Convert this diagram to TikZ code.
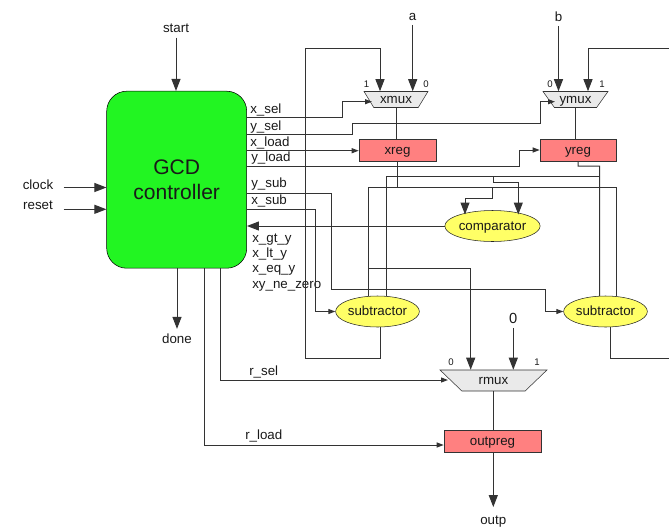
\documentclass[tikz,border=0pt]{standalone}
\usepackage{fontspec}
\setmainfont{Liberation Sans}
\usepackage{xcolor}
\usetikzlibrary{arrows.meta,shapes.geometric,calc}

\definecolor{ctrlgreen}{HTML}{22F522}
\definecolor{regred}{HTML}{FF8080}
\definecolor{opyellow}{HTML}{FFFF66}
\definecolor{muxgray}{HTML}{EAEAEA}
\definecolor{wiregray}{HTML}{333333}

\begin{document}
\begin{tikzpicture}[
  x=0.75pt, y=-0.75pt,
  every node/.style={font=\fontsize{10}{12}\selectfont, text=black!90},
  ctrl/.style={rectangle, draw=black, fill=ctrlgreen, rounded corners=15pt,
               minimum width=140*0.75pt, minimum height=177*0.75pt, align=center, inner sep=0pt,
               font=\fontsize{15.8}{18.75}\selectfont},
  regbox/.style={rectangle, draw=black!80, fill=regred, minimum height=22*0.75pt, inner sep=0pt,
               text height=6pt, text depth=0pt},
  alu/.style={ellipse, draw=black!85, fill=opyellow, minimum height=31*0.75pt, inner sep=0pt,
               text height=6pt, text depth=0pt},
  muxbox/.style 2 args={trapezium, shape border rotate=180, trapezium stretches=true,
               draw=black!80, fill=muxgray, inner sep=0pt, minimum height=#2*0.75pt,
               minimum width=#1*0.75pt, text height=6pt, text depth=0pt},
  sig/.style={inner sep=0pt, anchor=west, text height=7.5pt, text depth=1pt},
  pin/.style={inner sep=0pt, font=\fontsize{7.2}{9}\selectfont},
  wire/.style={draw=wiregray, line width=0.75pt},
  arr/.style={wire, -{Triangle[length=9pt, width=6.75pt]}},
  sarr/.style={wire, -{Triangle[length=5.25pt, width=3.75pt]}},
]
\useasboundingbox (0,0) rectangle (669,526);

% Controller
\node[ctrl] (ctrl) at (176.7,179.7) {GCD\\controller};

% Muxes
\node[muxbox={64}{16}, trapezium left angle=49, trapezium right angle=49] (xmux) at (396,99.5) {xmux};
\node[muxbox={65}{16}, trapezium left angle=43, trapezium right angle=43] (ymux) at (575.5,99.5) {ymux};
\node[muxbox={107}{21}, trapezium left angle=38, trapezium right angle=38] (rmux) at (493.5,380.5) {rmux};
\node[pin] (xone) at (366.5,84) {1};
\node[pin] (xzero) at (426,84) {0};
\node[pin] (yzero) at (550,84) {0};
\node[pin] (yone) at (602,84) {1};
\node[pin] (rzero) at (451,362) {0};
\node[pin] (rone) at (537,362) {1};

% Registers
\node[regbox, minimum width=77*0.75pt] (xreg) at (397.5,150) {xreg};
\node[regbox, minimum width=76*0.75pt] (yreg) at (578,150) {yreg};
\node[regbox, minimum width=97*0.75pt] (outpreg) at (492.5,441) {outpreg};

% Function units
\node[alu, minimum width=75*0.75pt] (comparator) at (492.5,226) {comparator};
\node[alu, minimum width=81*0.75pt] (subx) at (377.5,311.5) {subtractor};
\node[alu, minimum width=77*0.75pt] (suby) at (605.5,311.5) {subtractor};

% Ports
\node (start) at (176,28.5) {start};
\node (done) at (177,338.5) {done};
\node (clock) at (38,184.5) {clock};
\node (reset) at (38,205) {reset};
\node (a) at (412.7,16.5) {a};
\node (b) at (558.5,16.5) {b};
\node[font=\fontsize{11}{13}\selectfont] (zero) at (513.3,318) {0};
\node (outp) at (493.3,521.5) {outp};
\coordinate (clockin) at (63.5,187.5);
\coordinate (resetin) at (63.5,209.3);
\coordinate (xedge) at (669,48.7);
\coordinate (yedge) at (669,358.7);
\coordinate (xbus) at (616.7,187.5);
\coordinate (ybus) at (599.7,176.7);

% Signal names
\node[sig] (lxsel) at (250,109) {x\_sel};
\node[sig] (lysel) at (250,126) {y\_sel};
\node[sig] (lxload) at (250,142) {x\_load};
\node[sig] (lyload) at (251,157) {y\_load};
\node[sig] (lysub) at (251,183) {y\_sub};
\node[sig] (lxsub) at (251,200) {x\_sub};
\node[sig] (lgt) at (252,238) {x\_gt\_y};
\node[sig] (llt) at (252,253) {x\_lt\_y};
\node[sig] (leq) at (252,268) {x\_eq\_y};
\node[sig] (lne) at (252,284) {xy\_ne\_zero};
\node[sig] (lrsel) at (249,371) {r\_sel};
\node[sig] (lrload) at (245,435) {r\_load};

% Arrows: ports
\draw[arr] (start) -- (start |- ctrl.north);
\draw[arr] (done |- ctrl.south) -- (done);
\draw[arr] (clockin) -- (ctrl.west |- clockin);
\draw[arr] (resetin) -- (ctrl.west |- resetin);
\draw[arr] (a) -- (a |- xmux.north);
\draw[arr] (b) -- (b |- ymux.north);
\draw[arr] (zero) -- (zero |- rmux.north);
\draw[arr, shorten >=3pt] (outp |- outpreg.south) -- (outp);

% Arrows: control
\draw[sarr] (ctrl.east |- 0,117.7) -| (342.7,101.7) -- ($(xmux.center)+(-24,2.2)$);
\draw[sarr] (ctrl.east |- 0,134.7) -| (352.7,123.3) -| (540.7,101.7) -- ($(ymux.center)+(-20.5,2.2)$);
\draw[sarr] (ctrl.east |- 0,150.7) -- (xreg.west |- 0,150.7);
\draw[sarr] (ctrl.east |- 0,166) -| (519,150) -- (yreg.west);
\draw[sarr] (ctrl.east |- 0,193.3) -| (331.7,289.3) -| (545.7,311.5) -- (suby.west);
\draw[sarr] (ctrl.east |- 0,209.3) -| (315.7,311.5) -- (subx.west);
\draw[arr] (comparator.west) -- (ctrl.east |- comparator.west);
\draw[sarr] (220,268) |- ($(rmux.center)+(-45.5,-0.5)$);
\draw[sarr] (204.3,268) |- (outpreg.west |- 0,445);

% Data path
\draw[wire] (xmux.center |- 0,107) -- (xmux.center |- xreg.north);
\draw[wire] (ymux.center |- 0,107) -- (ymux.center |- yreg.north);
\draw[wire] (rmux.center |- 0,391) -- (rmux.center |- outpreg.north);
\draw[arr] ($(subx.south)+(2.5,0)$) |- (305,358.7) -- (305,48.7) -| ($(xmux.north)+(-16,0)$);
\draw[arr] (xedge) -| ($(ymux.north)+(12.5,0)$);
\draw[wire] ($(suby.south)+(4.5,0)$) |- (yedge);

% x register bus
\draw[wire] (xreg.south) -- (xreg.south |- xbus);
\draw[wire] ($(subx.north)+(-8.8,0.5)$) |- (xbus) -- ($(suby.north)+(11.2,0.5)$);
\draw[wire] (492.3,187.5) |- (465,198);
\draw[arr] (465,198) -- (465,214.5);

% y register bus
\draw[wire] (yreg.south) |- (599.7,166) -- ($(suby.north)+(-5.8,0.5)$);
\draw[wire] (ybus) -| ($(subx.north)+(9.2,0.5)$);
\draw[arr] (493.3,176.7) |- (518.3,182.3) -- (518.3,214.5);

% result mux inputs
\draw[arr] (368.7,268.3) -| ($(rmux.north)+(-22.8,0)$);
\end{tikzpicture}
\end{document}
